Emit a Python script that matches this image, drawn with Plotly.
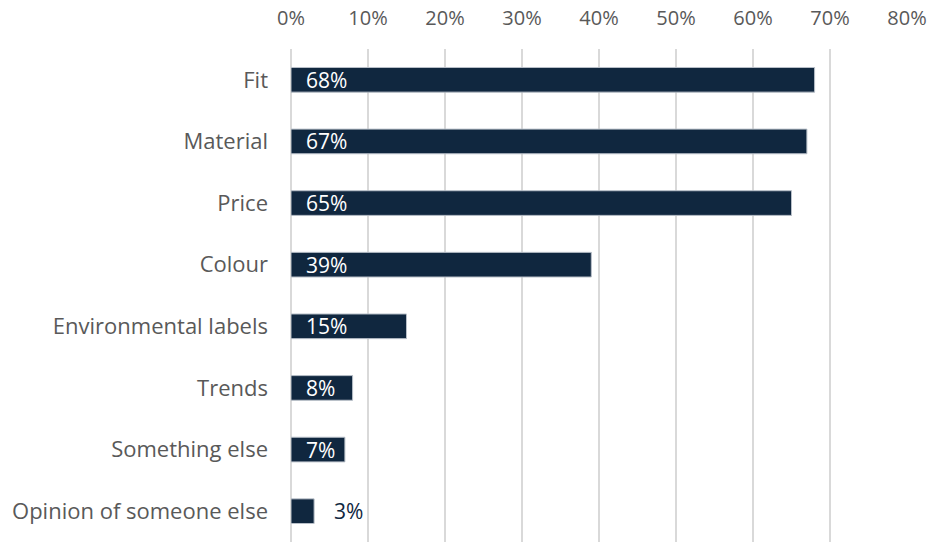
import plotly.graph_objects as go

# Share of respondents naming each factor (%)
factors = ["Fit", "Material", "Price", "Colour", "Environmental labels",
           "Trends", "Something else", "Opinion of someone else"]
shares = [68, 67, 65, 39, 15, 8, 7, 3]
tick_values = [0, 10, 20, 30, 40, 50, 60, 70, 80]
tick_labels = [f"{v}%" for v in tick_values]

BAR = "#10273f"
FONT = "Open Sans"

fig = go.Figure(go.Bar(
    x=shares, y=factors, orientation="h", width=0.4,
    marker=dict(color=BAR, line=dict(color="#b8bfc8", width=1)),
    hoverinfo="skip",
))

# Value labels: inside the bar near its base, or just past the end for tiny bars
for f, v in zip(factors, shares):
    if v >= 5:
        fig.add_annotation(x=0, y=f, text=f"{v}%", showarrow=False,
                           xanchor="left", xshift=13,
                           font=dict(color="white", size=21, family=FONT))
    else:
        fig.add_annotation(x=v, y=f, text=f"{v}%", showarrow=False,
                           xanchor="left", xshift=18,
                           font=dict(color=BAR, size=21, family=FONT))

fig.update_layout(
    width=933, height=542,
    margin=dict(l=291, r=26, t=49, b=0),
    plot_bgcolor="white", paper_bgcolor="white",
    showlegend=False,
    font=dict(family=FONT, size=20, color="#595959"),
    xaxis=dict(side="top", range=[0, 80], tickvals=tick_values,
               ticktext=tick_labels, showgrid=True, gridcolor="#d9d9d9",
               gridwidth=1.5, zeroline=True, zerolinecolor="#d9d9d9",
               zerolinewidth=1.5, showline=False, ticks="",
               ticklabelstandoff=19,
               tickfont=dict(size=20, color="#595959")),
    yaxis=dict(autorange="reversed", showgrid=False, ticks="",
               ticklabelstandoff=22, showline=False,
               tickfont=dict(size=22, color="#595959")),
)

fig.write_html("out.html")
